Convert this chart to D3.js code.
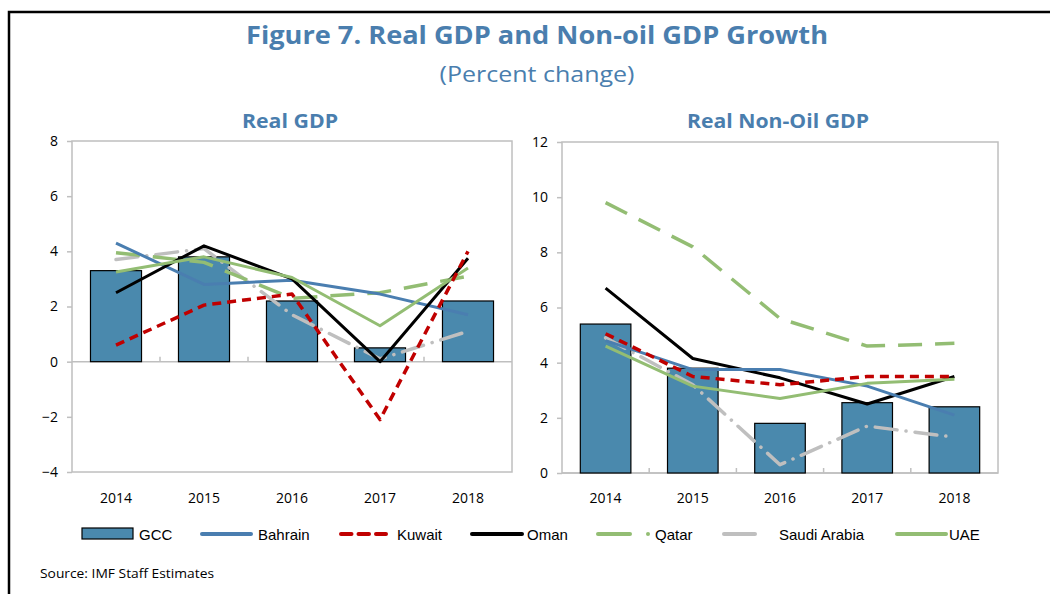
<!DOCTYPE html>
<html>
<head>
<meta charset="utf-8">
<script src="https://cdn.jsdelivr.net/npm/d3@7"></script>
<style>
  body { margin: 0; background: #fff; }
  svg text { font-family: "Open Sans", "Noto Sans", sans-serif; }
</style>
</head>
<body>
<svg id="chart" width="1050" height="594"></svg>
<script>
const years = ['2014', '2015', '2016', '2017', '2018']

// Real GDP (percent change)
const gccGdp     = [3.3, 3.8, 2.2, 0.5, 2.2]
const bahrainGdp = [4.3, 2.8, 2.95, 2.45, 1.7]
const kuwaitGdp  = [0.6, 2.05, 2.45, -2.1, 4.0]
const omanGdp    = [2.5, 4.2, 3.0, 0.0, 3.75]
const qatarGdp   = [3.95, 3.6, 2.3, 2.5, 3.1]
const saudiGdp   = [3.7, 4.1, 1.7, 0.1, 1.1]
const uaeGdp     = [3.25, 3.8, 3.05, 1.3, 3.4]

// Real non-oil GDP (percent change)
const gccNonOil     = [5.4, 3.8, 1.8, 2.55, 2.4]
const bahrainNonOil = [4.8, 3.75, 3.75, 3.15, 2.1]
const kuwaitNonOil  = [5.05, 3.5, 3.2, 3.5, 3.5]
const omanNonOil    = [6.7, 4.15, 3.45, 2.5, 3.5]
const qatarNonOil   = [9.8, 8.2, 5.6, 4.6, 4.7]
const saudiNonOil   = [4.9, 3.2, 0.3, 1.7, 1.3]
const uaeNonOil     = [4.6, 3.15, 2.7, 3.25, 3.4]

const leftTicks = [-4, -2, 0, 2, 4, 6, 8]
const rightTicks = [0, 2, 4, 6, 8, 10, 12]

const blueTitle = '#4a7eae'
const barFill = '#4a89ad'
const gridGray = '#bfbfbf'

const seriesStyle = {
  Bahrain: { color: '#4a7eb0', dash: null, width: 3 },
  Kuwait: { color: '#c00000', dash: '9,6', width: 3.5 },
  Oman: { color: '#000000', dash: null, width: 3 },
  Qatar: { color: '#93bd73', dash: '24,13', width: 3.5 },
  'Saudi Arabia': { color: '#bfbfbf', dash: '22,9,0.1,9', width: 3.5 },
  UAE: { color: '#93bd73', dash: null, width: 3 }
}

const svg = d3.select('svg#chart')

// outer frame
svg.append('path')
  .attr('d', 'M9,1000 L9,12 L1060,12')
  .attr('fill', 'none')
  .attr('stroke', '#000')
  .attr('stroke-width', 2.5)

svg.append('text')
  .attr('x', 537).attr('y', 44)
  .attr('text-anchor', 'middle')
  .attr('fill', blueTitle)
  .style('font-size', '25px')
  .style('font-weight', 'bold')
  .attr('textLength', 582)
  .attr('lengthAdjust', 'spacingAndGlyphs')
  .text('Figure 7. Real GDP and Non-oil GDP Growth')

svg.append('text')
  .attr('x', 537).attr('y', 82)
  .attr('text-anchor', 'middle')
  .attr('fill', blueTitle)
  .style('font-size', '21px')
  .attr('textLength', 195)
  .attr('lengthAdjust', 'spacingAndGlyphs')
  .text('(Percent change)')

function drawPanel(opt) {
  const g = svg.append('g')
  const x = d3.scaleBand().domain(years).range([opt.x0, opt.x1]).paddingInner(0.42).paddingOuter(0.21)
  const xc = d3.scalePoint().domain(years).range([opt.x0, opt.x1]).padding(0.5)
  const y = d3.scaleLinear().domain(opt.domain).range([opt.y1, opt.y0])
  const step = (opt.x1 - opt.x0) / years.length

  g.append('text')
    .attr('x', (opt.x0 + opt.x1) / 2 - 2).attr('y', 128)
    .attr('text-anchor', 'middle')
    .attr('fill', blueTitle)
    .style('font-size', '19px')
    .style('font-weight', 'bold')
    .attr('textLength', opt.titleLen)
    .attr('lengthAdjust', 'spacingAndGlyphs')
    .text(opt.title)

  // plot frame
  g.append('rect')
    .attr('x', opt.x0).attr('y', opt.y0)
    .attr('width', opt.x1 - opt.x0).attr('height', opt.y1 - opt.y0)
    .attr('fill', 'none')
    .attr('stroke', gridGray)
    .attr('stroke-width', 1.5)

  // y axis
  const yAxis = g.append('g')
    .attr('transform', `translate(${opt.x0},0)`)
    .call(d3.axisLeft(y).tickValues(opt.ticks).tickSize(5).tickPadding(9).tickFormat(d3.format('d')))
  yAxis.select('.domain').remove()
  yAxis.selectAll('line').attr('stroke', gridGray).attr('stroke-width', 1.5)
  yAxis.selectAll('text').style('font-size', '14px').attr('fill', '#000')
    .style('font-family', '"Open Sans", sans-serif')

  // zero line + category ticks
  g.append('line')
    .attr('x1', opt.x0).attr('x2', opt.x1)
    .attr('y1', y(0)).attr('y2', y(0))
    .attr('stroke', gridGray).attr('stroke-width', 1.5)
  g.selectAll('.cattick')
    .data(years.slice(1))
    .enter().append('line')
    .attr('x1', (d, i) => opt.x0 + step * (i + 1))
    .attr('x2', (d, i) => opt.x0 + step * (i + 1))
    .attr('y1', y(0)).attr('y2', y(0) - 5)
    .attr('stroke', gridGray).attr('stroke-width', 1.5)

  g.selectAll('.xlab')
    .data(years)
    .enter().append('text')
    .attr('x', d => xc(d)).attr('y', 503)
    .attr('text-anchor', 'middle')
    .style('font-size', '14px')
    .text(d => d)

  // GCC bars
  g.selectAll('.bar')
    .data(opt.bars)
    .enter().append('rect')
    .attr('x', (d, i) => x(years[i]))
    .attr('width', x.bandwidth())
    .attr('y', d => y(Math.max(0, d)))
    .attr('height', d => Math.abs(y(d) - y(0)))
    .attr('fill', barFill)
    .attr('stroke', '#000')
    .attr('stroke-width', 1.2)

  const line = d3.line().x((d, i) => xc(years[i])).y(d => y(d))
  opt.lines.forEach(s => {
    const st = seriesStyle[s.name]
    g.append('path')
      .datum(s.values)
      .attr('d', line)
      .attr('fill', 'none')
      .attr('stroke', st.color)
      .attr('stroke-width', st.width)
      .attr('stroke-dasharray', st.dash)
      .attr('stroke-linecap', s.name === 'Saudi Arabia' ? 'round' : 'butt')
      .attr('stroke-linejoin', 'round')
  })
}

drawPanel({
  title: 'Real GDP', titleLen: 96,
  x0: 72, x1: 512, y0: 141, y1: 472,
  domain: [-4, 8], ticks: leftTicks,
  bars: gccGdp,
  lines: [
    { name: 'Saudi Arabia', values: saudiGdp },
    { name: 'Qatar', values: qatarGdp },
    { name: 'Bahrain', values: bahrainGdp },
    { name: 'Oman', values: omanGdp },
    { name: 'UAE', values: uaeGdp },
    { name: 'Kuwait', values: kuwaitGdp }
  ]
})

drawPanel({
  title: 'Real Non-Oil GDP', titleLen: 182,
  x0: 562, x1: 998, y0: 142, y1: 473,
  domain: [0, 12], ticks: rightTicks,
  bars: gccNonOil,
  lines: [
    { name: 'Saudi Arabia', values: saudiNonOil },
    { name: 'Qatar', values: qatarNonOil },
    { name: 'Oman', values: omanNonOil },
    { name: 'Bahrain', values: bahrainNonOil },
    { name: 'UAE', values: uaeNonOil },
    { name: 'Kuwait', values: kuwaitNonOil }
  ]
})

// legend
const legendY = 534
const legendItems = [
  { name: 'GCC', x: 82, w: 51, tx: 139 },
  { name: 'Bahrain', x: 202, w: 49, tx: 258 },
  { name: 'Kuwait', x: 341, w: 45, tx: 397 },
  { name: 'Oman', x: 472, w: 50, tx: 527 },
  { name: 'Qatar', x: 598, w: 32, tx: 655 },
  { name: 'Saudi Arabia', x: 724, w: 31, tx: 779 },
  { name: 'UAE', x: 897, w: 49, tx: 949 }
]
const legend = svg.append('g')
legendItems.forEach(it => {
  if (it.name === 'GCC') {
    legend.append('rect')
      .attr('x', it.x).attr('y', legendY - 6)
      .attr('width', it.w).attr('height', 11)
      .attr('fill', barFill).attr('stroke', '#000').attr('stroke-width', 1.2)
  } else {
    legend.append('line')
      .attr('x1', it.x).attr('x2', it.x + it.w)
      .attr('y1', legendY).attr('y2', legendY)
      .attr('stroke', seriesStyle[it.name].color).attr('stroke-width', 4)
      .attr('stroke-dasharray', it.name === 'Kuwait' ? '10.5,7' : null)
      .attr('stroke-linecap', 'round')
    if (it.name === 'Qatar') {
      legend.append('circle')
        .attr('cx', 648).attr('cy', legendY).attr('r', 2)
        .attr('fill', seriesStyle.Qatar.color)
    }
  }
  legend.append('text')
    .attr('x', it.tx).attr('y', legendY + 5.5)
    .style('font-family', '"Liberation Sans", Arial, sans-serif')
    .style('font-size', '15px')
    .text(it.name)
})

svg.append('text')
  .attr('x', 40).attr('y', 578)
  .style('font-size', '12px')
  .attr('textLength', 174)
  .attr('lengthAdjust', 'spacingAndGlyphs')
  .text('Source: IMF Staff Estimates')
</script>
</body>
</html>
